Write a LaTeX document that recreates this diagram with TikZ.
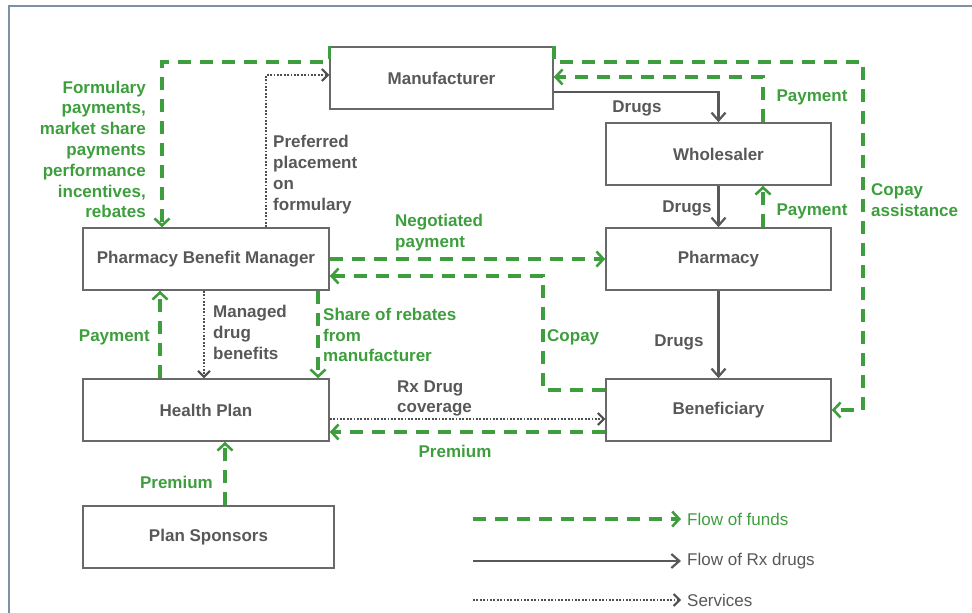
\documentclass[tikz,border=0pt]{standalone}
\usepackage{fontspec}
\setmainfont{Liberation Sans}
\usepackage{xcolor}
\usetikzlibrary{arrows.meta,positioning,calc}
\definecolor{fundgreen}{RGB}{62,158,62}
\definecolor{boxgray}{RGB}{105,105,105}
\definecolor{txtgray}{RGB}{88,88,88}
\definecolor{framegray}{RGB}{125,145,165}

\begin{document}
\begin{tikzpicture}[x=1pt,y=-1pt,
  party/.style={draw=boxgray, line width=1.5pt, minimum height=62pt, inner sep=0pt, text=txtgray, font=\fontsize{17}{20.8}\selectfont\bfseries},
  funds/.style={draw=fundgreen, line width=3.5pt, dash pattern=on 13pt off 9pt, -{Straight Barb[length=7pt,width=15pt,line width=2.6pt]}},
  drugs/.style={draw=txtgray, line width=2.2pt, -{Straight Barb[length=8pt,width=14pt,line width=2.2pt]}},
  serv/.style={draw=txtgray!90!black, line width=2.4pt, dash pattern=on 1.8pt off 1.6pt, -{Straight Barb[length=6pt,width=12pt,line width=2pt]}},
  glabel/.style={text=fundgreen, inner sep=0pt, font=\fontsize{17}{20.8}\selectfont\bfseries},
  klabel/.style={text=txtgray, inner sep=0pt, font=\fontsize{17}{20.8}\selectfont\bfseries},
  legtext/.style={anchor=west, inner sep=0pt, font=\fontsize{17}{20.8}\selectfont}]
\useasboundingbox (0,0) rectangle (972,613);
\draw[framegray, line width=2pt] (9,613) -- (9,6) -- (972,6);

% the parties
\node[party, minimum width=223pt] (manufacturer) at (441.5,78) {Manufacturer};
\node[party, minimum width=225pt] (wholesaler) at (718.5,154) {Wholesaler};
\node[party, minimum width=225pt] (pharmacy) at (718.5,259) {Pharmacy};
\node[party, minimum width=225pt] (beneficiary) at (718.5,410) {Beneficiary};
\node[party, minimum width=246pt] (pbm) at (206,259) {Pharmacy Benefit Manager};
\node[party, minimum width=246pt] (healthplan) at (206,410) {Health Plan};
\node[party, minimum width=251pt] (sponsors) at (208.5,537) {Plan Sponsors};

\coordinate (formpay) at (162,62);
\coordinate (copayassist) at (863,62);
\coordinate (copaycorner) at (543,276);

% drugs
\draw[drugs] ([yshift=-14pt]manufacturer.east) -| (wholesaler.north);
\draw[drugs] (wholesaler) -- (pharmacy);
\draw[drugs] (pharmacy) -- (beneficiary);
\node[klabel] (drugsa) at (637,108) {Drugs};
\node[klabel] (drugsb) at (687,208) {Drugs};
\node[klabel] (drugsc) at (679,342) {Drugs};

% funds
\draw[funds] ([xshift=44.5pt]pharmacy.north) -- ([xshift=44.5pt]wholesaler.south);
\draw[funds] ([xshift=44.5pt]wholesaler.north) |- ([yshift=1pt]manufacturer.east);
\draw[funds] (manufacturer.north east) |- (copayassist) |- (beneficiary.east);
\draw[funds] (manufacturer.north west) |- (formpay) -- (formpay |- pbm.north);
\draw[funds] (pbm) -- (pharmacy);
\draw[funds] ([yshift=20pt]beneficiary.west) -| (copaycorner) -- ([yshift=-17pt]pbm.east);
\draw[funds] ([xshift=112pt]pbm.south) -- ([xshift=112pt]healthplan.north);
\draw[funds] ([xshift=-46pt]healthplan.north) -- ([xshift=-46pt]pbm.south);
\draw[funds] ([yshift=-22pt]beneficiary.west) -- ([yshift=-22pt]healthplan.east);
\draw[funds] ([xshift=16.5pt]sponsors.north) -- ([xshift=19pt]healthplan.south);
\node[glabel] (paywhole) at (812,97) {Payment};
\node[glabel] (paypharm) at (812,211) {Payment};
\node[glabel, anchor=west, align=left] (assist) at (871,200.5) {Copay\\assistance};
\node[glabel, anchor=east, align=right] (formulary) at (146,149.5) {Formulary\\payments,\\market share\\payments\\performance\\incentives,\\rebates};
\node[glabel, anchor=west, align=left] (negotiated) at (395,233) {Negotiated\\payment};
\node[glabel, anchor=west] (copay) at (547,337) {Copay};
\node[glabel, anchor=west, align=left] (rebates) at (323,335) {Share of rebates\\from\\manufacturer};
\node[glabel, anchor=east] (payplan) at (150,337) {Payment};
\node[glabel] (premiuma) at (455,451) {Premium};
\node[glabel, anchor=east] (premiumb) at (213,482) {Premium};

% services
\draw[serv] ([xshift=60pt]pbm.north) |- ([yshift=3pt]manufacturer.west);
\draw[serv] ([xshift=-2pt]pbm.south) -- ([xshift=-2pt]healthplan.north);
\draw[serv] ([yshift=-9pt]healthplan.east) -- ([yshift=-9pt]beneficiary.west);
\node[klabel, anchor=west, align=left] (preferred) at (273,174.5) {Preferred\\placement\\on\\formulary};
\node[klabel, anchor=west, align=left] (managed) at (213,332.5) {Managed\\drug\\benefits};
\node[klabel, anchor=west, align=left] (coverage) at (397,398.5) {Rx Drug\\coverage};

% legend
\coordinate (fundsleg) at (473,519);
\coordinate (drugsleg) at (473,561);
\coordinate (servleg) at (473,600);
\node[legtext, text=fundgreen] (fundstext) at (687,519) {Flow of funds};
\node[legtext, text=txtgray] (drugstext) at (687,561) {Flow of Rx drugs};
\node[legtext, text=txtgray] (servtext) at (687,600) {Services};
\draw[funds] (fundsleg) -- ([xshift=-6pt]fundstext.west);
\draw[drugs] (drugsleg) -- ([xshift=-6pt]drugstext.west);
\draw[serv] (servleg) -- ([xshift=-6pt]servtext.west);
\end{tikzpicture}
\end{document}
